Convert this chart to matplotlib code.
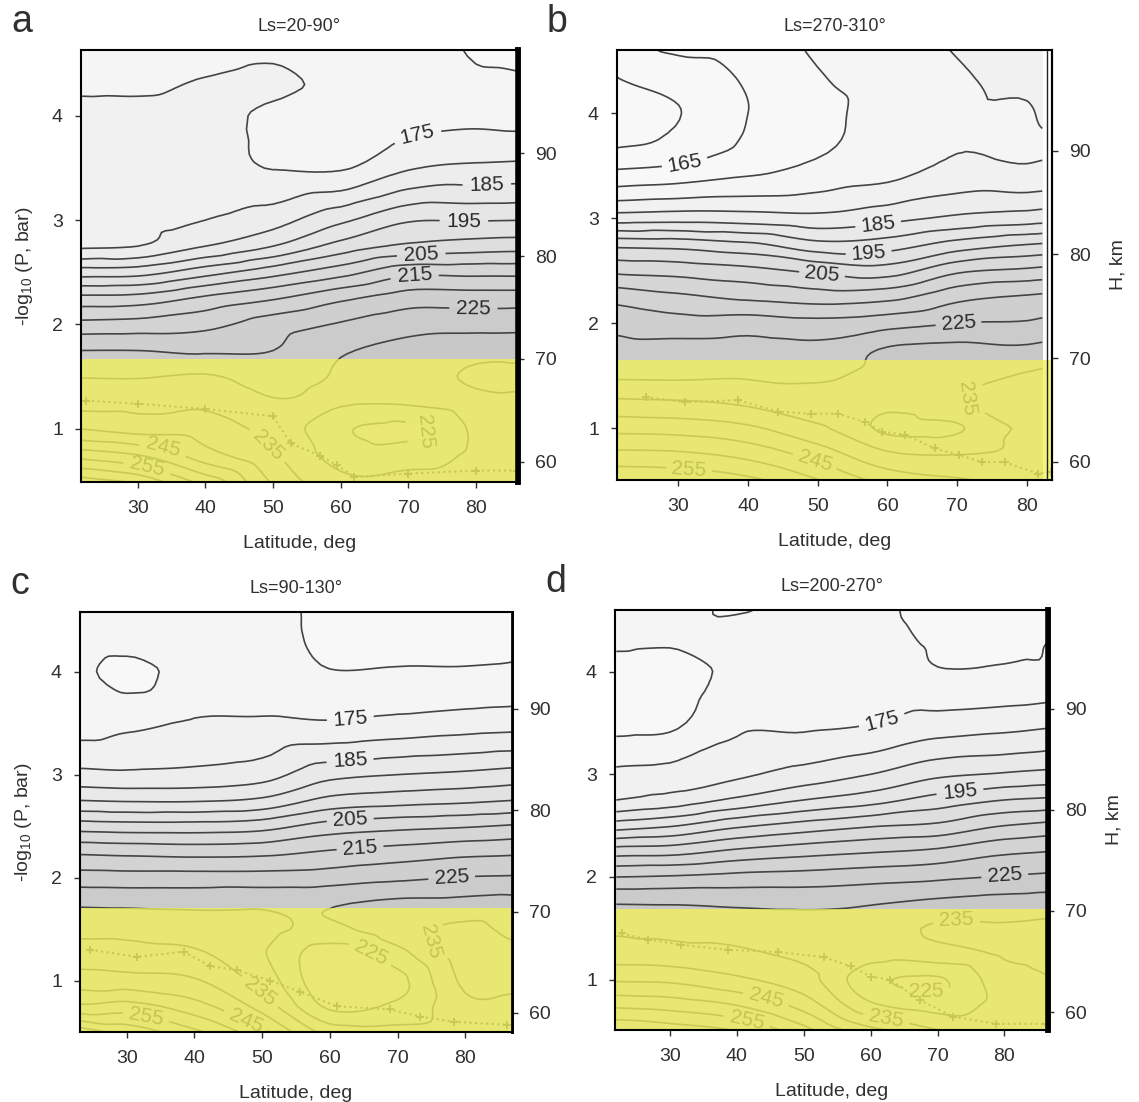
import numpy as np
import matplotlib
matplotlib.use("Agg")
import matplotlib.pyplot as plt
import matplotlib.tri as mtri
from matplotlib.colors import LinearSegmentedColormap, Normalize

plt.rcParams['font.family'] = ['Liberation Sans', 'DejaVu Sans']
plt.rcParams['mathtext.default'] = 'regular'
TXT = '#303030'

# pressure levels of the temperature grid, -log10(P, bar)
logp_rows = [4.7, 4.3, 4.0, 3.5, 3.0, 2.75, 2.5, 2.25, 2.0, 1.75, 1.5, 1.25, 1.0, 0.75, 0.45]

# ---- panel a : Ls=20-90 ----
lat_a = [21, 30, 40, 50, 60, 70, 80, 88]
temp_a = [
    [171, 174, 176.5, 177.5, 178, 179.2, 192.5, 206.5, 216.5, 225, 229.8, 233.3, 240, 253, 270],
    [171, 174, 176.5, 177.5, 178.5, 180, 193, 207, 217, 225, 229.7, 233.5, 238, 250, 266],
    [172, 175.5, 176.5, 177.5, 180, 185, 198, 211, 218.5, 224.3, 230.5, 234, 237.5, 242, 255],
    [173.5, 176, 174, 174.8, 183, 190, 203, 214.5, 222.5, 225, 228, 230.5, 233.5, 235.5, 240],
    [173, 174, 173.5, 174.5, 189, 197, 208, 219, 225.5, 229.5, 230.5, 230.5, 225.8, 228, 232],
    [173.5, 174, 173.5, 179.5, 194.5, 201, 213.5, 222.5, 228, 231.5, 232, 230.5, 224, 227.5, 233],
    [169, 171, 173.5, 181, 194.7, 202.5, 213.5, 222.5, 228.3, 233, 236, 233, 230.8, 231, 233],
    [169, 170.5, 173, 181.5, 195, 203, 213.5, 222.5, 228.5, 233, 236.5, 234, 233, 233, 233],
]
dots_lat_a = [22.4, 30, 40, 50, 52.6, 57, 59.5, 62, 70, 80, 86]
dots_p_a = [1.27, 1.24, 1.19, 1.12, 0.86, 0.74, 0.65, 0.54, 0.57, 0.6, 0.6]
labels_a = [(175, 71.3, 3.82), (185, 81.6, 3.33), (195, 78.2, 2.98), (205, 71.9, 2.69),
            (215, 70.9, 2.47), (225, 79.6, 2.13), (245, 33.6, 0.79), (255, 31.6, 0.68),
            (235, 48.6, 0.81), (225, 72, 0.96)]

# ---- panel b : Ls=270-310 ----
lat_b = [21, 30, 40, 50, 60, 70, 80, 82.2]
temp_b = [
    [163, 159.5, 156, 164, 182.5, 198.5, 208.8, 218.1, 223.5, 226.5, 229.3, 236, 243.5, 251.5, 261],
    [167, 162, 159.8, 165.3, 183, 198, 208, 216, 222, 226.8, 229.2, 235.5, 243, 251, 260],
    [167.5, 165.5, 165, 168, 182.5, 196, 206.5, 214, 222.5, 227, 229.5, 234, 241, 248.5, 258],
    [171, 169.5, 168.5, 170.8, 181.5, 191.5, 204, 212.5, 221.5, 226.5, 229.5, 231.5, 236, 243, 252],
    [173, 172, 172, 172.5, 183.5, 192.5, 202.5, 213.5, 223, 230.5, 231.5, 231, 229, 236, 245],
    [175.5, 174.5, 174.5, 176, 186, 197, 209, 218.5, 225, 231.5, 233.5, 234.5, 229.5, 235, 242],
    [177, 176, 174.5, 175.2, 187.5, 200, 211, 220.6, 225.5, 231, 235.5, 237, 236, 235.5, 239],
    [177.5, 176.5, 175.5, 175.5, 188, 200.5, 211.5, 221, 226, 231.5, 236, 237, 236.5, 235.5, 239],
]
dots_lat_b = [25.3, 31, 38.6, 44.3, 49.1, 52.9, 56.8, 59.2, 62.5, 66.8, 70.2, 73.5, 76.8, 81.6, 83.4]
dots_p_b = [1.3, 1.25, 1.27, 1.16, 1.14, 1.14, 1.06, 0.97, 0.94, 0.81, 0.75, 0.68, 0.68, 0.57, 0.59]
labels_b = [(165, 31, 3.49), (185, 58.7, 2.92), (195, 57.3, 2.67), (205, 50.6, 2.46),
            (225, 70.2, 1.98), (235, 69.7, 1.19), (245, 49.6, 0.70), (255, 31.5, 0.57)]

# ---- panel c : Ls=90-130 ----
lat_c = [23, 30, 40, 50, 60, 70, 80, 87]
temp_c = [
    [176, 173, 171, 173, 181.5, 190, 202.5, 214, 222.2, 229.2, 233.5, 237.5, 242.5, 251, 272],
    [174, 172, 168.5, 174, 181, 189.5, 202, 213.5, 222, 229, 233.5, 237, 242, 252, 266],
    [172, 172, 172, 175.5, 181.5, 189.5, 202, 213, 222, 228.8, 232.5, 236, 240.5, 247, 258],
    [172.5, 172.5, 172, 175.8, 183, 191, 203, 213.5, 222, 229, 231.5, 230.5, 233, 238, 248],
    [168, 168.5, 170.2, 175.5, 188.5, 196.5, 207, 215.5, 222.5, 229.5, 229, 222, 221, 224, 235],
    [167.5, 168, 170.5, 176.5, 190, 198, 208.5, 217, 224, 231, 233, 228, 223.5, 226, 233],
    [168, 168.5, 170.5, 177.5, 191, 199, 209.5, 218.5, 225.2, 231.5, 236, 237, 236, 234, 233],
    [168.5, 169, 170.8, 178, 192, 200, 210.5, 219, 225.5, 231.8, 234, 236, 236, 234, 233],
]
dots_lat_c = [24.6, 31.5, 38.4, 42.3, 46.3, 51.2, 55.6, 61, 68.9, 73.3, 78.3, 86.1]
dots_p_c = [1.3, 1.23, 1.28, 1.14, 1.1, 1.0, 0.89, 0.75, 0.72, 0.65, 0.6, 0.57]
labels_c = [(175, 63, 3.56), (185, 63, 3.11), (205, 63, 2.58), (215, 64.5, 2.25),
            (225, 78, 1.99), (255, 33, 0.70), (235, 49, 0.83), (245, 48, 0.68),
            (225, 65, 1.14), (235, 71.5, 1.23)]

# ---- panel d : Ls=200-270 ----
lat_d = [22, 30, 40, 50, 60, 70, 80, 87]
temp_d = [
    [172, 171, 168, 168.5, 176.2, 180, 192.5, 207.5, 220, 229.6, 234, 237.5, 244.4, 254, 267],
    [172, 170.5, 168, 169, 177, 182, 194.5, 208, 220.5, 229.5, 233.5, 237, 244, 253, 265],
    [169.5, 171, 171, 174, 179, 186, 199, 211, 221.5, 229, 233, 236, 241, 250, 262],
    [171.5, 172, 172.5, 174, 182, 190, 202, 213, 222, 228.8, 232, 234, 237, 243, 254],
    [171, 171.5, 172.5, 174.8, 185, 193, 204.5, 214.5, 223, 229.5, 233, 232, 226.5, 231, 244],
    [168.5, 169.5, 170.3, 177, 189, 197, 206, 216, 224, 231, 235.5, 233, 224.5, 228, 237],
    [168.5, 169.5, 170.5, 178, 190.5, 200, 210, 219, 225.3, 232, 235.5, 235.5, 233, 232, 234],
    [169, 170, 170.8, 179, 191.5, 201, 211.5, 220, 226, 232.5, 236, 236, 235, 234, 234],
]
dots_lat_d = [22.8, 26.8, 31.7, 38.7, 46.1, 53, 57, 60, 62.9, 67.4, 72.3, 78.8, 86.2]
dots_p_d = [1.45, 1.39, 1.34, 1.29, 1.27, 1.22, 1.13, 1.03, 1.0, 0.8, 0.64, 0.57, 0.57]
labels_d = [(175, 62, 3.45), (195, 73.3, 2.86), (225, 80, 2.05), (235, 72.8, 1.63),
            (245, 44.1, 0.75), (255, 41.6, 0.64), (235, 62.4, 0.66), (225, 68.3, 0.87)]

panels = [
    dict(letter='a', title='Ls=20-90°', lat=lat_a, temp=temp_a, dl=dots_lat_a, dp=dots_p_a,
         labels=labels_a, rect=[81, 50, 518, 482], xlim=(21.6, 86.2), ylim=(0.49, 4.63),
         cloud=1.67, rspine=4.0, left_label=True, right_label=False),
    dict(letter='b', title='Ls=270-310°', lat=lat_b, temp=temp_b, dl=dots_lat_b, dp=dots_p_b,
         labels=labels_b, rect=[617, 50, 1052, 480], xlim=(21.2, 83.6), ylim=(0.51, 4.6),
         cloud=1.65, rspine=1.5, left_label=False, right_label=True),
    dict(letter='c', title='Ls=90-130°', lat=lat_c, temp=temp_c, dl=dots_lat_c, dp=dots_p_c,
         labels=labels_c, rect=[80, 612, 512, 1032], xlim=(23.1, 86.9), ylim=(0.5, 4.58),
         cloud=1.70, rspine=2.0, left_label=True, right_label=False),
    dict(letter='d', title='Ls=200-270°', lat=lat_d, temp=temp_d, dl=dots_lat_d, dp=dots_p_d,
         labels=labels_d, rect=[615, 610, 1048, 1030], xlim=(21.8, 86.5), ylim=(0.51, 4.6),
         cloud=1.69, rspine=4.0, left_label=False, right_label=True),
]

W, H = 1139, 1102
fig = plt.figure(figsize=(W / 100, H / 100), dpi=100)

gray = LinearSegmentedColormap.from_list('g', ['#f8f8f8', '#c8c8c8'])
levels = np.arange(150, 280, 5)
LINE = '#444444'


def to_h(p):
    return 70 + (p - 1.67) * 10.15


def to_p(h):
    return 1.67 + (h - 70) / 10.15


for pn in panels:
    x0, y0, x1, y1 = pn['rect']
    ax = fig.add_axes([x0 / W, 1 - y1 / H, (x1 - x0) / W, (y1 - y0) / H])
    X, Y = np.meshgrid(pn['lat'], logp_rows)
    T = np.array(pn['temp']).T
    # smooth the coarse grid with matplotlib's own cubic triangulation refiner
    tri = mtri.Triangulation(X.ravel() / 10.0, Y.ravel())
    interp = mtri.CubicTriInterpolator(tri, T.ravel(), kind='geom')
    rtri, rT = mtri.UniformTriRefiner(tri).refine_field(T.ravel(), triinterpolator=interp, subdiv=3)
    rtri = mtri.Triangulation(rtri.x * 10.0, rtri.y, rtri.triangles)

    ax.tricontourf(rtri, rT, levels=levels, cmap=gray, norm=Normalize(168, 232), zorder=1)
    lab_levels = sorted(set(l[0] for l in pn['labels']))
    plain = [lv for lv in levels if lv not in lab_levels]
    ax.tricontour(rtri, rT, levels=plain, colors=LINE, linewidths=1.2, zorder=2)
    for lev in lab_levels:
        cs = ax.tricontour(rtri, rT, levels=[lev], colors=LINE, linewidths=1.2, zorder=2)
        pos = [(la, lp) for (lv, la, lp) in pn['labels'] if lv == lev]
        ax.clabel(cs, manual=pos, inline=True, fmt='%d', fontsize=15,
                  colors='#2a2a2a', inline_spacing=6)
    ax.plot(pn['dl'], pn['dp'], ls=':', marker='+', color='#3a3a3a', ms=6, mew=1.3,
            lw=1.5, zorder=3)
    ax.axhspan(pn['ylim'][0], pn['cloud'], color='#f0f05a', alpha=0.78, lw=0, zorder=4)
    if pn['letter'] == 'b':
        ax.axvline(82.85, color='#222222', lw=1.0, zorder=5)

    ax.set_xlim(*pn['xlim'])
    ax.set_ylim(*pn['ylim'])
    ax.set_xticks([30, 40, 50, 60, 70, 80])
    ax.set_yticks([1, 2, 3, 4])
    ax.tick_params(direction='out', length=4, width=1, labelsize=14, colors=TXT, pad=9)
    for s in ax.spines.values():
        s.set_linewidth(1.5)
        s.set_zorder(6)
    ax.spines['right'].set_linewidth(pn['rspine'])
    ax.set_xlabel('Latitude, deg', fontsize=14, color=TXT, labelpad=13)
    if pn['left_label']:
        ax.set_ylabel('-log$_{10}$ (P, bar)', fontsize=14, color=TXT, labelpad=12)
    ax.set_title(pn['title'], fontsize=13, color=TXT, pad=14)

    sec = ax.secondary_yaxis('right', functions=(to_h, to_p))
    sec.set_yticks([60, 70, 80, 90])
    sec.tick_params(direction='out', length=4, width=1, labelsize=14, colors=TXT, pad=8)
    sec.spines['right'].set_linewidth(pn['rspine'])
    if pn['right_label']:
        sec.set_ylabel('H, km', fontsize=14, color=TXT, labelpad=14)

    fig.text((x0 - 70) / W, 1 - (y0 - 18) / H, pn['letter'], fontsize=27, color=TXT,
             ha='left', va='baseline')

fig.savefig('out.png', dpi=100, facecolor='white')
